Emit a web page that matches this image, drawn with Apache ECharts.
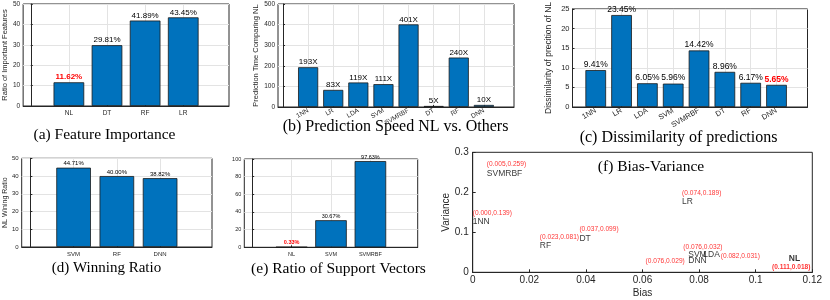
<!DOCTYPE html>
<html><head><meta charset="utf-8">
<script src="https://cdn.jsdelivr.net/npm/echarts@6/dist/echarts.min.js"></script>
<style>html,body{margin:0;padding:0;background:#fff}#c{width:830px;height:300px}</style>
</head><body><div id="c"></div>
<script>
// ---- data ----
const featCats = ['NL', 'DT', 'RF', 'LR'];
const featVals = [11.62, 29.81, 41.89, 43.45];
const speedCats = ['1NN', 'LR', 'LDA', 'SVM', 'SVMRBF', 'DT', 'RF', 'DNN'];
const speedVals = [193, 83, 119, 111, 401, 5, 240, 10];
const dissCats = ['1NN', 'LR', 'LDA', 'SVM', 'SVMRBF', 'DT', 'RF', 'DNN'];
const dissVals = [9.41, 23.45, 6.05, 5.96, 14.42, 8.96, 6.17, 5.65];
const winCats = ['SVM', 'RF', 'DNN'];
const winVals = [44.71, 40.00, 38.82];
const svCats = ['NL', 'SVM', 'SVMRBF'];
const svVals = [0.33, 30.67, 97.63];
const bvNames = ['SVMRBF', 'LR', '1NN', 'DT', 'RF', 'SVM', 'LDA', 'DNN', 'NL'];
const bvBias = [0.005, 0.074, 0.000, 0.037, 0.023, 0.076, 0.082, 0.076, 0.111];
const bvVar = [0.259, 0.189, 0.139, 0.099, 0.081, 0.032, 0.031, 0.029, 0.018];

// ---- layout / style ----
const AX = '#262626', GRIDC = '#e3e3e3', BLUE = '#0072BD', RED = '#ff0000';
const SANS = 'Liberation Sans', SERIF = 'Liberation Serif';
const panels = [
  {cats: featCats, vals: featVals, red: [0], left: 22, top: 4, width: 207, height: 102, xmin: -0.2, xmax: 5.2,
   ymax: 50, yint: 10, yname: 'Ratio of Important Features', nameGap: 12, nameFont: 7.5, tickFont: 6.5, catFont: 6.5,
   valFont: 8, rot: 0, suffix: '%', dec: 2},
  {cats: speedCats, vals: speedVals, red: [], left: 278, top: 4, width: 236, height: 103, xmin: -0.2, xmax: 9.2,
   ymax: 500, yint: 100, yname: 'Prediction Time Comparing NL', nameGap: 15, nameFont: 7.5, tickFont: 6.5, catFont: 6.5,
   valFont: 8, rot: 30, suffix: 'X', dec: 0},
  {cats: dissCats, vals: dissVals, red: [7], left: 572.5, top: 6, width: 235, height: 101, xmin: 0.1, xmax: 9.2,
   ymax: 25, yint: 5, yname: 'Dissimilarity of precition of NL', nameGap: 19, nameFont: 8.5, tickFont: 7.5, catFont: 7.5,
   valFont: 8.5, rot: 30, suffix: '%', dec: 2},
  {cats: winCats, vals: winVals, red: [], left: 21.7, top: 158.3, width: 190.3, height: 88.7, xmin: -0.2, xmax: 4.2,
   ymax: 50, yint: 10, yname: 'NL Wining Ratio', nameGap: 8, nameFont: 7, tickFont: 6, catFont: 6, valFont: 6,
   rot: 0, suffix: '%', dec: 2},
  {cats: svCats, vals: svVals, red: [0], left: 244.3, top: 159, width: 173.4, height: 88.3, xmin: -0.2, xmax: 4.2,
   ymax: 100, yint: 20, yname: '', nameGap: 10, nameFont: 7, tickFont: 5.5, catFont: 5.5, valFont: 5.5,
   rot: 0, suffix: '%', dec: 2}
];
const captions = [
  {text: '(a) Feature Importance', x: 104.5, y: 135, size: 15.5},
  {text: '(b) Prediction Speed NL vs. Others', x: 395.5, y: 127, size: 16},
  {text: '(c) Dissimilarity of predictions', x: 678.5, y: 138, size: 16},
  {text: '(d) Winning Ratio', x: 106.5, y: 268.5, size: 15},
  {text: '(e) Ratio of Support Vectors', x: 338.5, y: 269, size: 15.5},
  {text: '(f) Bias-Variance', x: 651, y: 167, size: 15.5}
];
// label placement for the bias-variance panel: [dx, dy, align, bold]
const nameLab = {SVMRBF: [0, 4.6, 'left'], LR: [0, 5.3, 'left'], '1NN': [0, 5, 'left'], DT: [2, 6.3, 'left'],
  RF: [2, 5.8, 'left'], SVM: [0.5, -5.2, 'left'], LDA: [-1.5, -5.6, 'left'], DNN: [0.5, 0, 'left'], NL: [2, -6, 'left', true]};
const coordLab = {SVMRBF: [0, -4.4, 'left'], LR: [0, -4, 'left'], '1NN': [0, -4, 'left'], DT: [2, -3.7, 'left'],
  RF: [2, -3.2, 'left'], SVM: [-4.5, -12.2, 'left'], LDA: [16, -4.2, 'left'], DNN: [-3, 0, 'right'], NL: [4.4, 2, 'center', true]};

const grid = [], xAxis = [], yAxis = [], series = [];
panels.forEach((p, i) => {
  grid.push({left: p.left, top: p.top, width: p.width, height: p.height, show: true, borderColor: AX, borderWidth: 1});
  const ticks = p.cats.map((_, k) => k + 1);
  xAxis.push({type: 'value', gridIndex: i, min: p.xmin, max: p.xmax,
    axisLine: {show: true, onZero: false, lineStyle: {color: AX}},
    axisTick: {show: true, inside: true, length: 2, customValues: ticks, lineStyle: {color: AX}},
    axisLabel: {customValues: ticks, formatter: v => p.cats[Math.round(v) - 1] || '', fontSize: p.catFont,
      fontFamily: SANS, color: AX, margin: p.rot ? 3 : 4, rotate: p.rot},
    splitLine: {show: true, lineStyle: {color: GRIDC}}});
  yAxis.push({type: 'value', gridIndex: i, min: 0, max: p.ymax, interval: p.yint,
    name: p.yname, nameLocation: 'middle', nameGap: p.nameGap,
    nameTextStyle: {fontSize: p.nameFont, fontFamily: SANS, color: AX},
    axisLine: {show: true, lineStyle: {color: AX}},
    axisTick: {show: true, inside: true, length: 2, lineStyle: {color: AX}},
    axisLabel: {fontSize: p.tickFont, fontFamily: SANS, color: AX, margin: 3},
    splitLine: {show: true, lineStyle: {color: GRIDC}}});
  const bw = 0.8 * p.width / (p.xmax - p.xmin);
  series.push({type: 'bar', xAxisIndex: i, yAxisIndex: i, barWidth: bw,
    itemStyle: {color: BLUE, borderColor: '#1a1a1a', borderWidth: 0.8},
    label: {show: true, position: 'top', distance: 1, fontSize: p.valFont, fontFamily: SANS, color: '#000',
      formatter: d => d.value[1].toFixed(p.dec) + p.suffix},
    data: p.vals.map((v, k) => {
      const o = {value: [k + 1, v]};
      if (p.red.includes(k)) o.label = {color: RED, fontWeight: 'bold'};
      return o;
    })});
});

// bias-variance panel
const fi = panels.length;
grid.push({left: 472.7, top: 152.3, width: 339.6, height: 120, show: true, borderColor: AX, borderWidth: 1});
xAxis.push({type: 'value', gridIndex: fi, min: 0, max: 0.12, interval: 0.02, name: 'Bias', nameLocation: 'middle',
  nameGap: 16, nameTextStyle: {fontSize: 10, fontFamily: SANS, color: AX},
  axisLine: {show: true, onZero: false, lineStyle: {color: AX}},
  axisTick: {show: true, inside: true, length: 3, lineStyle: {color: AX}},
  axisLabel: {fontSize: 10, fontFamily: SANS, color: AX, margin: 3}, splitLine: {show: false}});
yAxis.push({type: 'value', gridIndex: fi, min: 0, max: 0.3, interval: 0.1, name: 'Variance', nameLocation: 'middle',
  nameGap: 17, nameTextStyle: {fontSize: 10, fontFamily: SANS, color: AX},
  axisLine: {show: true, lineStyle: {color: AX}},
  axisTick: {show: true, inside: true, length: 3, lineStyle: {color: AX}},
  axisLabel: {fontSize: 10, fontFamily: SANS, color: AX, margin: 4}, splitLine: {show: false}});
const mk = (lab, col, size, fmt) => ({type: 'scatter', xAxisIndex: fi, yAxisIndex: fi, symbolSize: 1,
  itemStyle: {color: 'rgba(0,0,0,0)'}, silent: true,
  data: bvNames.map((n, k) => {
    const L = lab[n];
    return {name: n, value: [bvBias[k], bvVar[k]],
      label: {show: true, position: 'inside', align: L[2], verticalAlign: 'middle', offset: [L[0], L[1]],
        fontSize: size, fontFamily: SANS, color: col, fontWeight: L[3] ? 'bold' : 'normal', formatter: fmt}};
  })});
series.push(mk(nameLab, '#000', 8.5, d => d.name));
series.push(mk(coordLab, RED, 6.6, d => '(' + d.value[0].toFixed(3) + ',' + d.value[1].toFixed(3) + ')'));

const graphic = captions.map(c => ({type: 'text', x: c.x, y: c.y,
  style: {text: c.text, fontSize: c.size, fontFamily: SERIF, fill: '#000', align: 'center', verticalAlign: 'middle'}}));

const chart = echarts.init(document.getElementById('c'), null, {renderer: 'canvas'});
chart.setOption({animation: false, backgroundColor: '#fff', grid, xAxis, yAxis, series, graphic});
</script></body></html>
